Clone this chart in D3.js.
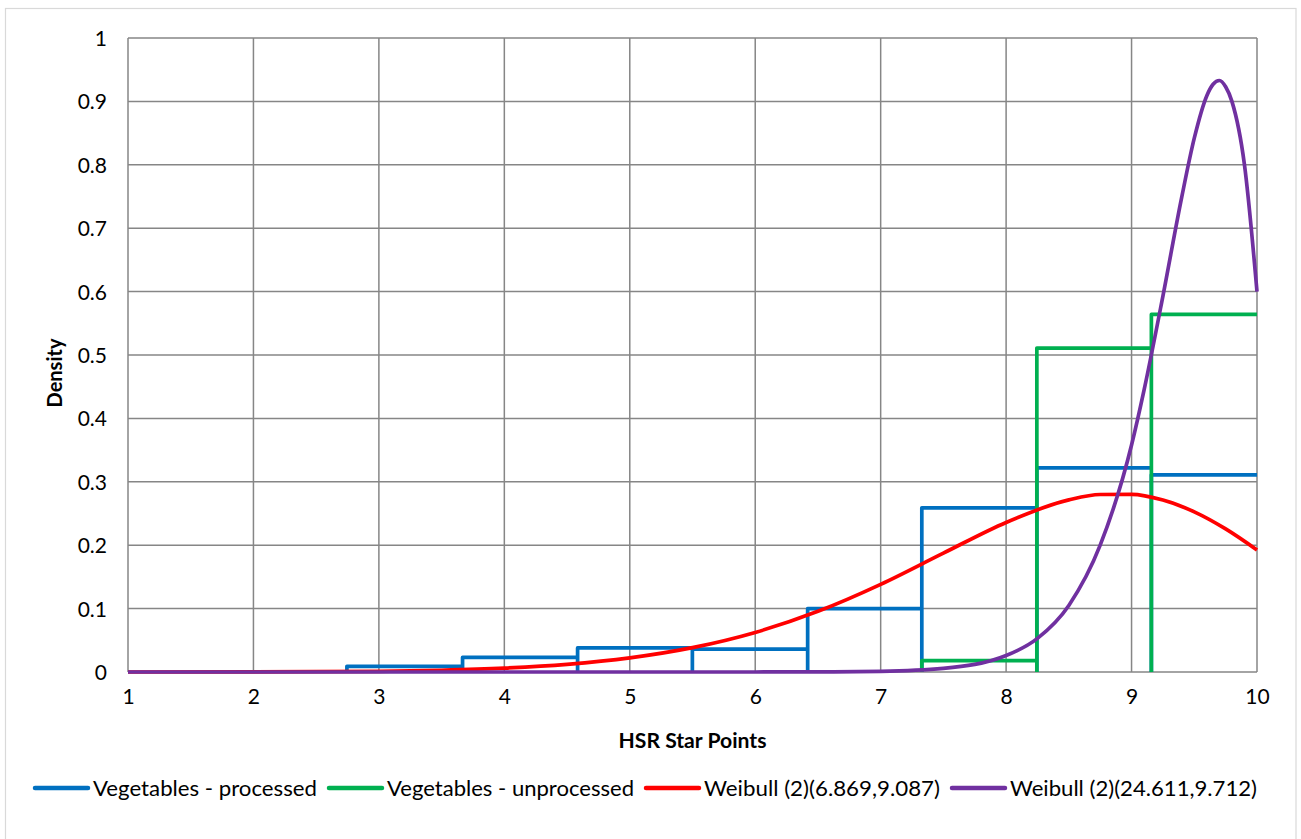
<!DOCTYPE html>
<html>
<head>
<meta charset="utf-8">
<script src="https://cdn.jsdelivr.net/npm/d3@7/dist/d3.min.js"></script>
<style>
  html, body { margin: 0; padding: 0; background: #fff; }
  svg { display: block; }
  text { font-family: Lato, "Open Sans", sans-serif; fill: #000; }
</style>
</head>
<body>
<svg id="chart" width="1301" height="839"></svg>
<script>
// ---------- DATA ----------
const xTicks = [1, 2, 3, 4, 5, 6, 7, 8, 9, 10];
const yTicks = [0, 0.1, 0.2, 0.3, 0.4, 0.5, 0.6, 0.7, 0.8, 0.9, 1];
const yTickLabels = ["0", "0.1", "0.2", "0.3", "0.4", "0.5", "0.6", "0.7", "0.8", "0.9", "1"];

// histogram bin edges (HSR star points)
const binEdges = [2.745, 3.667, 4.584, 5.499, 6.418, 7.328, 8.245, 9.158, 10];
// densities per bin
const processed   = [0.009, 0.023, 0.038, 0.036, 0.100, 0.259, 0.322, 0.311];
const unprocessed = [0, 0, 0, 0, 0, 0.018, 0.511, 0.564];

// Weibull (2)(6.869,9.087) curve
const weibullAX = [1, 2, 3, 3.5, 4, 4.5, 5, 5.5, 6, 6.5, 7, 7.5, 8, 8.5, 8.75, 9, 9.25, 9.5, 9.75, 10];
const weibullAY = [0, 0.0001, 0.0011, 0.0028, 0.0061, 0.0121, 0.0223, 0.0384, 0.0624, 0.0957, 0.1383, 0.1875, 0.2359, 0.2715, 0.2800, 0.2803, 0.2712, 0.2526, 0.2257, 0.1925];

// Weibull (2)(24.611,9.712) curve
const weibullBX = [1, 5, 6, 6.5, 7, 7.5, 8, 8.25, 8.5, 8.75, 9, 9.1, 9.25, 9.4, 9.5, 9.6, 9.65, 9.7, 9.75, 9.8, 9.9, 10];
const weibullBY = [0, 0, 0.00003, 0.0002, 0.0011, 0.0057, 0.026, 0.053, 0.105, 0.200, 0.358, 0.445, 0.593, 0.749, 0.842, 0.909, 0.927, 0.933, 0.923, 0.900, 0.800, 0.600];

const seriesNames = ["Vegetables - processed", "Vegetables - unprocessed", "Weibull (2)(6.869,9.087)", "Weibull (2)(24.611,9.712)"];
const seriesColors = ["#0070C0", "#00B050", "#FF0000", "#7030A0"];

const xTitle = "HSR Star Points";
const yTitle = "Density";

// ---------- LAYOUT ----------
const svg = d3.select("#chart");
const W = 1301, H = 839;
const plot = { left: 128, right: 1257, top: 38, bottom: 672 };

svg.append("rect").attr("x", 0).attr("y", 0).attr("width", W).attr("height", H).attr("fill", "#fff");
svg.append("rect").attr("x", 5.5).attr("y", 8.5).attr("width", 1290.5).attr("height", 845)
  .attr("fill", "none").attr("stroke", "#d9d9d9").attr("stroke-width", 1.2);

const x = d3.scaleLinear().domain([1, 10]).range([plot.left, plot.right]);
const y = d3.scaleLinear().domain([0, 1]).range([plot.bottom, plot.top]);

const gridColor = "#868686";
svg.append("g").selectAll("line").data(xTicks).join("line")
  .attr("x1", d => x(d)).attr("x2", d => x(d))
  .attr("y1", y(0)).attr("y2", y(1))
  .attr("stroke", gridColor).attr("stroke-width", 1.5);
svg.append("g").selectAll("line").data(yTicks).join("line")
  .attr("x1", x(1)).attr("x2", x(10))
  .attr("y1", d => y(d)).attr("y2", d => y(d))
  .attr("stroke", gridColor).attr("stroke-width", 1.5);

// axes (labels only, via d3 axis generators)
const xAxis = d3.axisBottom(x).tickValues(xTicks).tickSize(0).tickPadding(0).tickFormat(d3.format("d"));
const gx = svg.append("g").attr("transform", `translate(0,${plot.bottom})`).call(xAxis);
gx.select(".domain").remove();
gx.selectAll("text").attr("font-size", 21).attr("font-family", "Lato").attr("fill", "#000")
  .attr("y", 31).attr("dy", "0.05em");

const yAxis = d3.axisLeft(y).tickValues(yTicks).tickSize(0).tickPadding(0)
  .tickFormat((d, i) => yTickLabels[i]);
const gy = svg.append("g").attr("transform", `translate(${plot.left},0)`).call(yAxis);
gy.select(".domain").remove();
gy.selectAll("text").attr("font-size", 21).attr("font-family", "Lato").attr("fill", "#000")
  .attr("x", -21).attr("dy", "0.36em");

// axis titles
svg.append("text").attr("x", (plot.left + plot.right) / 2).attr("y", 748)
  .attr("text-anchor", "middle").attr("font-size", 20).attr("font-weight", "bold")
  .attr("textLength", 148).attr("lengthAdjust", "spacingAndGlyphs").text(xTitle);
svg.append("text").attr("transform", `translate(62,${(plot.top + plot.bottom) / 2 + 18}) rotate(-90)`)
  .attr("text-anchor", "middle").attr("font-size", 20).attr("font-weight", "bold").text(yTitle);

// ---------- SERIES ----------
const lw = 3.7;
const lineGen = d3.line().x(d => x(d[0])).y(d => y(d[1]));

function drawHist(values, color) {
  const g = svg.append("g");
  values.forEach((h, i) => {
    if (h <= 0) return;
    const l = binEdges[i], r = binEdges[i + 1];
    g.append("path")
      .attr("d", lineGen([[l, 0], [l, h], [r, h]]))
      .attr("fill", "none").attr("stroke", color).attr("stroke-width", lw)
      .attr("stroke-linejoin", "round").attr("stroke-linecap", "butt");
  });
}
drawHist(processed, seriesColors[0]);
drawHist(unprocessed, seriesColors[1]);

const curveGen = d3.line().x(d => x(d[0])).y(d => y(d[1])).curve(d3.curveMonotoneX);
svg.append("path").attr("d", curveGen(weibullAX.map((v, i) => [v, weibullAY[i]])))
  .attr("fill", "none").attr("stroke", seriesColors[2]).attr("stroke-width", lw).attr("stroke-linejoin", "round");
svg.append("path").attr("d", curveGen(weibullBX.map((v, i) => [v, weibullBY[i]])))
  .attr("fill", "none").attr("stroke", seriesColors[3]).attr("stroke-width", lw).attr("stroke-linejoin", "round");

// ---------- LEGEND ----------
const legend = svg.append("g");
const legY = 788;
const lineLen = 53, lineGap = 5, itemGap = 12;
const legTextWidths = [224, 247, 236, 247];
let cx = 35;
seriesNames.forEach((name, i) => {
  legend.append("line").attr("x1", cx).attr("x2", cx + lineLen).attr("y1", legY).attr("y2", legY)
    .attr("stroke", seriesColors[i]).attr("stroke-width", 4.5).attr("stroke-linecap", "round");
  legend.append("text").attr("x", cx + lineLen + lineGap).attr("y", legY).attr("dy", "0.36em")
    .attr("font-size", 22).attr("textLength", legTextWidths[i]).attr("lengthAdjust", "spacingAndGlyphs")
    .text(name);
  cx += lineLen + lineGap + legTextWidths[i] + itemGap;
});
</script>
</body>
</html>
